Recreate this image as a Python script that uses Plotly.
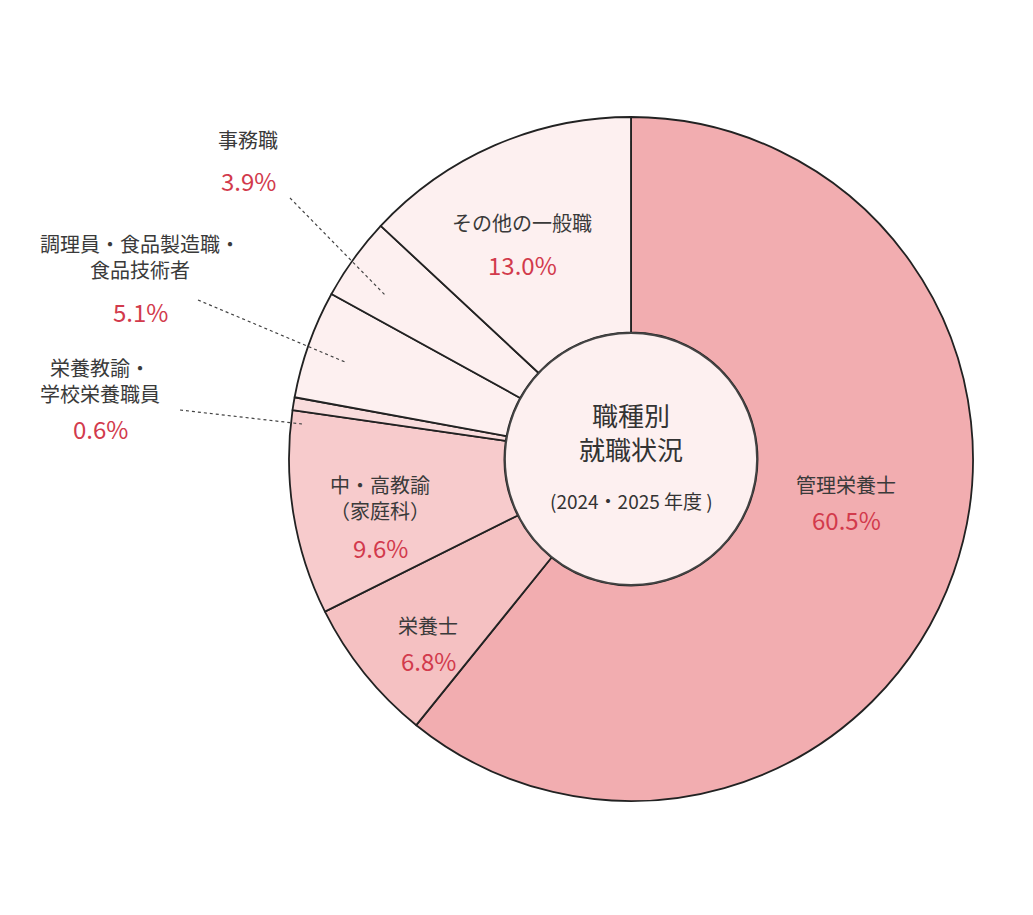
import plotly.graph_objects as go

labels = ["管理栄養士", "栄養士", "中・高教諭(家庭科)", "栄養教諭・学校栄養職員", "調理員・食品製造職・食品技術者", "事務職", "その他の一般職"]
values = [60.5, 6.8, 9.6, 0.6, 5.1, 3.9, 13.0]
colors = ["#f2adb0", "#f5c1c2", "#f7cbcc", "#f9dcdc", "#fdf0f0", "#fdf0f0", "#fdf0f0"]
names = ["管理栄養士", "栄養士", "中・高教諭<br>（家庭科）", "栄養教諭・<br>学校栄養職員", "調理員・食品製造職・<br>食品技術者", "事務職", "その他の一般職"]
pcts = ["60.5%", "6.8%", "9.6%", "0.6%", "5.1%", "3.9%", "13.0%"]
# (x, name center y, pct center y)
label_pos = [(846, 484, 519), (428, 625, 660), (380, 497, 547), (100, 381, 428),
             (140, 257, 311), (248, 140, 180), (522, 222, 264)]

W, H = 1033, 915
OFF = 8  # page body margin
def px(x): return (x - OFF) / W
def py(y): return 1 - (y - OFF) / H

cx, cy, R = 631, 459, 342
fig = go.Figure(go.Pie(labels=labels, values=values, sort=False, direction="clockwise",
                       rotation=0, hole=0.37, textinfo="none", hoverinfo="label+value",
                       marker=dict(colors=colors, line=dict(color="#222", width=1.8)),
                       domain=dict(x=[px(cx-R), px(cx+R)], y=[py(cy+R), py(cy-R)])))

font = "Noto Sans CJK JP"
for (x, yn, yp), n, p in zip(label_pos, names, pcts):
    fig.add_annotation(x=px(x), y=py(yn), xref="paper", yref="paper", xanchor="center", yanchor="middle",
                       text=n, showarrow=False, font=dict(family=font, size=20, color="#3a3a3a"))
    fig.add_annotation(x=px(x), y=py(yp), xref="paper", yref="paper", xanchor="center", yanchor="middle",
                       text=p, showarrow=False, font=dict(family=font, size=24, color="#d23a4c"))

hr = 126
fig.add_shape(type="circle", xref="paper", yref="paper", x0=px(cx-hr), x1=px(cx+hr),
              y0=py(cy+hr), y1=py(cy-hr), fillcolor="#fdf0f0", line=dict(color="#444", width=1.8))
fig.add_annotation(x=px(cx), y=py(431), xref="paper", yref="paper", xanchor="center", yanchor="middle",
                   showarrow=False, text="職種別<br>就職状況", font=dict(family=font, size=26, color="#333"))
fig.add_annotation(x=px(cx), y=py(500), xref="paper", yref="paper", xanchor="center", yanchor="middle",
                   showarrow=False, text="(2024・2025 年度 )", font=dict(family=font, size=19, color="#333"))

for x0, y0, x1, y1 in [(290, 198, 385, 295), (198, 300, 345, 362), (180, 410, 302, 424)]:
    fig.add_shape(type="line", xref="paper", yref="paper", x0=px(x0), x1=px(x1), y0=py(y0), y1=py(y1),
                  line=dict(color="#444", width=1.2, dash="dot"))

fig.update_layout(width=W, height=H, margin=dict(l=0, r=0, t=0, b=0), showlegend=False,
                  paper_bgcolor="white")
fig.write_html("out.html")
